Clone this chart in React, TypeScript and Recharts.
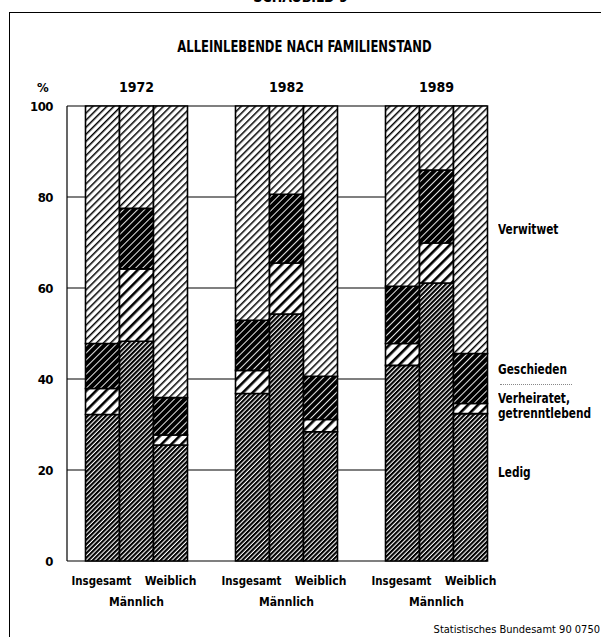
import React from 'react';
import { BarChart, Bar, XAxis, YAxis, CartesianGrid } from 'recharts';

// Categories
const years = ['1972', '1982', '1989'];
const yTicks = [0, 20, 40, 60, 80, 100];

// Insgesamt
const ledigInsg = [32.2, 36.8, 43.0];
const verhInsg = [5.7, 5.1, 4.8];
const geschInsg = [9.9, 11.0, 12.6];
const verwInsg = [52.2, 47.1, 39.6];
// Männlich
const ledigMaenn = [48.3, 54.3, 61.1];
const verhMaenn = [15.9, 11.2, 8.8];
const geschMaenn = [13.3, 15.1, 16.0];
const verwMaenn = [22.5, 19.4, 14.1];
// Weiblich
const ledigWeib = [25.5, 28.4, 32.4];
const verhWeib = [2.2, 2.7, 2.2];
const geschWeib = [8.2, 9.5, 11.0];
const verwWeib = [64.1, 59.4, 54.4];

const groups = ['I', 'M', 'W'];
const statuses = ['ledig', 'verh', 'gesch', 'verw'];

const data = years.map((year, i) => ({
  year,
  I_ledig: ledigInsg[i], I_verh: verhInsg[i], I_gesch: geschInsg[i], I_verw: verwInsg[i],
  M_ledig: ledigMaenn[i], M_verh: verhMaenn[i], M_gesch: geschMaenn[i], M_verw: verwMaenn[i],
  W_ledig: ledigWeib[i], W_verh: verhWeib[i], W_gesch: geschWeib[i], W_verw: verwWeib[i],
}));

const FONT = "'Liberation Sans Narrow', 'DejaVu Sans Condensed', 'Arial Narrow', sans-serif";

const TopTick = (props: any) => {
  const { x, y, payload } = props;
  return (
    <text x={x} y={y - 12} textAnchor="middle" fontFamily={FONT} fontWeight="bold" fontSize={14} fill="#000">
      {payload.value}
    </text>
  );
};

const BottomTick = (props: any) => {
  const { x, y } = props;
  const common = { fontFamily: FONT, fontWeight: 'bold' as const, fontSize: 12, fill: '#000', textAnchor: 'middle' as const };
  return (
    <g>
      <text x={x - 35} y={y + 22} {...common} textLength={60} lengthAdjust="spacingAndGlyphs">Insgesamt</text>
      <text x={x + 34} y={y + 22} {...common}>Weiblich</text>
      <text x={x} y={y + 43} {...common}>Männlich</text>
    </g>
  );
};

const LeftTick = (props: any) => {
  const { x, y, payload } = props;
  return (
    <text x={x} y={y + 5} textAnchor="end" fontFamily={FONT} fontWeight="bold" fontSize={13} fill="#000" letterSpacing={-0.5}>
      {payload.value}
    </text>
  );
};

const label = (text: string, left: number, top: number, size = 14, weight: any = 'bold') => (
  <div style={{ position: 'absolute', left, top, fontFamily: FONT, fontWeight: weight, fontSize: size, lineHeight: `${size + 2}px`, color: '#000', whiteSpace: 'nowrap', transform: 'scaleX(0.84)', transformOrigin: 'left center' }}>
    {text}
  </div>
);

export default function App() {
  return (
    <div style={{ position: 'absolute', left: 0, top: 0, width: 601, height: 637, background: '#fff', overflow: 'hidden' }}>
      {/* frame */}
      <div style={{ position: 'absolute', left: 9, top: 12, width: 600, height: 640, borderLeft: '1.5px solid #000', borderTop: '1.5px solid #000' }} />
      <div style={{ position: 'absolute', left: 0, top: -11, width: 601, textAlign: 'center', fontFamily: FONT, fontWeight: 'bold', fontSize: 14 }}>SCHAUBILD 9</div>
      <div style={{ position: 'absolute', left: 4, top: 38, width: 601, textAlign: 'center', fontFamily: FONT, fontWeight: 'bold', fontSize: 15, color: '#000', transform: 'scaleX(0.86)', transformOrigin: 'center' }}>
        ALLEINLEBENDE NACH FAMILIENSTAND
      </div>
      <div style={{ position: 'absolute', left: 37, top: 80, fontFamily: FONT, fontWeight: 'bold', fontSize: 13, lineHeight: '15px' }}>%</div>
      <BarChart
        width={601}
        height={637}
        data={data}
        margin={{ top: 76, right: 89.5, bottom: 36, left: 21.5 }}
        barSize={34}
        barGap={0}
        style={{ position: 'absolute', left: 0, top: 0 }}
      >
        <defs>
          <pattern id="p_ledig" patternUnits="userSpaceOnUse" width={3.2} height={3.2} patternTransform="rotate(45)">
            <rect x={0} y={0} width={3.2} height={3.2} fill="#fff" />
            <rect x={0} y={0} width={2.1} height={3.2} fill="#000" />
          </pattern>
          <pattern id="p_verh" patternUnits="userSpaceOnUse" width={7} height={7} patternTransform="rotate(45)">
            <rect x={0} y={0} width={7} height={7} fill="#fff" />
            <rect x={0} y={0} width={2.6} height={7} fill="#000" />
          </pattern>
          <pattern id="p_gesch" patternUnits="userSpaceOnUse" width={5} height={5} patternTransform="rotate(45)">
            <rect x={0} y={0} width={5} height={5} fill="#000" />
            <rect x={0} y={0} width={0.9} height={5} fill="#fff" />
          </pattern>
          <pattern id="p_verw" patternUnits="userSpaceOnUse" width={5} height={5} patternTransform="rotate(45)">
            <rect x={0} y={0} width={5} height={5} fill="#fff" />
            <rect x={0} y={0} width={1.5} height={5} fill="#000" />
          </pattern>
        </defs>
        <CartesianGrid
          xAxisId="bottom"
          yAxisId="left"
          x={67}
          width={420}
          stroke="#000"
          strokeWidth={1.2}
          verticalPoints={[67]}
          fill="none"
        />
        <XAxis xAxisId="top" orientation="top" dataKey="year" height={30} axisLine={false} tickLine={false} tickSize={0} tick={<TopTick />} interval={0} />
        <XAxis xAxisId="bottom" orientation="bottom" dataKey="year" height={40} axisLine={false} tickLine={false} tickSize={0} tick={<BottomTick />} interval={0} />
        <YAxis yAxisId="left" domain={[0, 100]} ticks={yTicks} width={40} axisLine={false} tickLine={false} tickSize={0} tickMargin={8.5} tick={<LeftTick />} interval={0} />
        {groups.map((g) =>
          statuses.map((s) => (
            <Bar
              key={`${g}_${s}`}
              dataKey={`${g}_${s}`}
              stackId={g}
              xAxisId="bottom"
              yAxisId="left"
              fill={`url(#p_${s})`}
              stroke="#000"
              strokeWidth={1.6}
              isAnimationActive={false}
            />
          ))
        )}
      </BarChart>
      {/* legend labels */}
      {label('Verwitwet', 498, 221)}
      {label('Geschieden', 498, 361)}
      <div style={{ position: 'absolute', left: 500, top: 384, width: 72, borderTop: '1px dotted #888' }} />
      {label('Verheiratet,', 498, 390)}
      {label('getrenntlebend', 498, 405)}
      {label('Ledig', 498, 464)}
      <div style={{ position: 'absolute', right: 1, top: 623, fontFamily: FONT, fontSize: 11, color: '#000' }}>
        Statistisches Bundesamt 90 0750
      </div>
    </div>
  );
}
